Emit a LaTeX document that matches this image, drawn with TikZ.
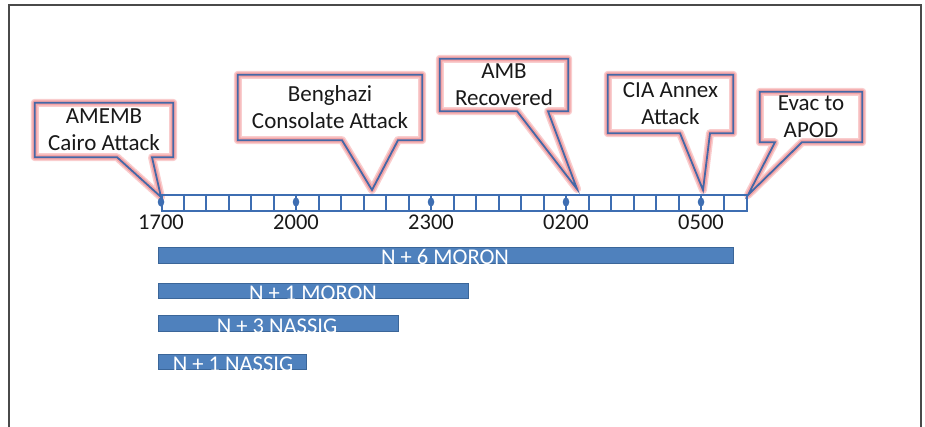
\documentclass[tikz,border=0pt]{standalone}
\usepackage{fontspec}
\setmainfont{Carlito}
\usetikzlibrary{backgrounds,calc}
\definecolor{callblue}{HTML}{4468A6}
\definecolor{glow}{HTML}{F4A4A6}
\definecolor{lineblue}{HTML}{3E6EB2}
\definecolor{barfill}{HTML}{4F81BD}
\definecolor{baredge}{HTML}{3B6699}
\definecolor{framec}{HTML}{4A4A4A}
\tikzset{
  calltext/.style={inner sep=0pt, align=center, font=\fontsize{23}{27}\selectfont, text=black!90},
  callglowouter/.style={draw=glow!55, line width=8pt, line join=round, fill=white},
  callglow/.style={draw=glow, line width=5pt, line join=round},
  callline/.style={draw=callblue, line width=1.8pt, line join=miter},
  tlabel/.style={anchor=base, inner sep=0pt, font=\fontsize{22.5}{26}\selectfont, text=black!90},
  barbox/.style={draw=baredge, fill=barfill, line width=0.8pt, inner sep=0pt, anchor=north west},
  bartext/.style={anchor=base, inner sep=0pt, font=\fontsize{22.5}{26}\selectfont, text=white},
  tickdot/.style={circle, fill=lineblue, inner sep=0pt, minimum width=6.5pt, yscale=1.4},
  gridline/.style={lineblue, line width=2pt}
}
\begin{document}
\begin{tikzpicture}[x=1pt,y=-1pt]
\useasboundingbox (0,0) rectangle (925,427);
% frame
\draw[framec, line width=2pt] (9,440) -- (9,5) -- (921,5) -- (921,440);

% timeline
\node[draw=lineblue, line width=2pt, minimum width=585pt, minimum height=16pt, inner sep=0pt, anchor=north west] (tl) at (161,194) {};
\foreach \i in {1,...,25} {
  \draw[gridline] ($(tl.north west)+(\i*22.5,0)$) -- ($(tl.south west)+(\i*22.5,0)$);
}
\foreach \x/\t/\n in {161/1700/a,296/2000/b,431/2300/c,566/0200/d,701/0500/e} {
  \node[tickdot] (dot\n) at (\x,202) {};
  \node[tlabel] (lab\n) at (\x,230) {\t};
}

% callout text nodes
\node[calltext, minimum width=138pt, minimum height=54pt] (c1) at (104,130) {AMEMB\\Cairo Attack};
\node[calltext, minimum width=184pt, minimum height=65pt] (c2) at (330,107.5) {Benghazi\\Consolate Attack};
\node[calltext, minimum width=128pt, minimum height=52pt] (c3) at (504,85) {AMB\\Recovered};
\node[calltext, minimum width=125pt, minimum height=58pt] (c4) at (670.5,104) {CIA Annex\\Attack};
\node[calltext, minimum width=102pt, minimum height=50pt] (c5) at (811,117) {Evac to\\APOD};

\coordinate (t1) at (161,197);
\coordinate (t2) at (372,190);
\coordinate (t3) at (577,189);
\coordinate (t4) at (703,190);
\coordinate (t5) at (748,195);

\begin{scope}[on background layer]
\foreach \c/\t/\l/\r in {c1/t1/117/152, c2/t2/342/398, c3/t3/517/548, c4/t4/680/710, c5/t5/775/802} {
  \coordinate (L) at (\l,0);
  \coordinate (R) at (\r,0);
  \foreach \st in {callglowouter, callglow, callline} {
    \path[\st] (\c.north west) -- (\c.north east) -- (\c.south east)
      -- (\c.south -| R) -- (\t) -- (\c.south -| L)
      -- (\c.south west) -- cycle;
  }
}
\end{scope}

% bars
\node[barbox, minimum width=575pt, minimum height=16pt] (b1) at (158,247) {};
\node[barbox, minimum width=310pt, minimum height=15pt] (b2) at (158,283) {};
\node[barbox, minimum width=240pt, minimum height=16pt] (b3) at (158,315) {};
\node[barbox, minimum width=148pt, minimum height=15pt] (b4) at (158,354) {};
\node[bartext] (bt1) at (445,265) {N + 6 MORON};
\node[bartext] (bt2) at (313,300) {N + 1 MORON};
\node[bartext] (bt3) at (277,333) {N + 3 NASSIG};
\node[bartext] (bt4) at (233,371) {N + 1 NASSIG};
\end{tikzpicture}
\end{document}
